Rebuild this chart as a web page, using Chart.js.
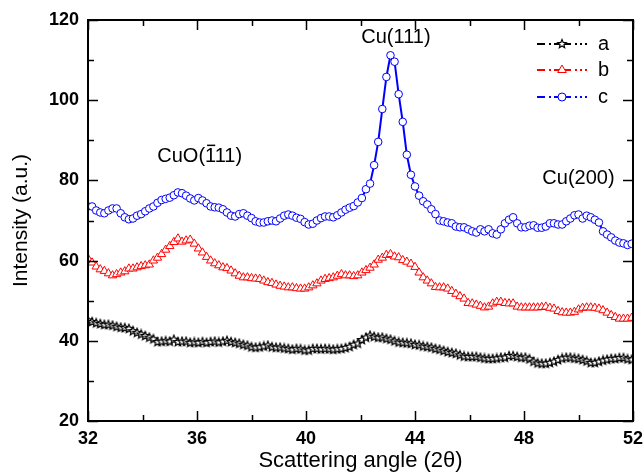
<!DOCTYPE html>
<html>
<head>
<meta charset="utf-8">
<script src="https://cdn.jsdelivr.net/npm/chart.js@4.4.0/dist/chart.umd.min.js"></script>
<style>
  html, body { margin:0; padding:0; background:#fff; }
  #wrap { width:644px; height:475px; position:relative; }
</style>
</head>
<body>
<div id="wrap"><canvas id="xrd" width="644" height="475"></canvas></div>
<script>
// --- data ---------------------------------------------------------
// angle grid: 2theta starts at 32 and goes up by 0.15 per point
const ANGLE_START = 32;
const ANGLE_STEP = 0.15;

const seriesNames = ['a', 'b', 'c'];

const intensityA = [
  45.1,44.7,44.4,44.2,44.0,44.0,43.8,43.5,43.3,43.2,43.0,42.4,42.0,41.6,41.2,40.8,40.4,39.7,39.8,39.9,
  39.8,40.3,39.7,39.8,39.8,39.5,39.6,39.5,39.7,39.5,39.7,39.8,39.6,39.8,40.0,39.7,39.5,39.3,39.0,38.8,
  38.4,38.3,38.4,38.6,38.8,38.4,38.3,38.3,38.1,38.0,37.8,38.0,37.9,37.6,37.6,38.0,38.0,37.9,38.0,37.9,
  37.8,37.9,38.0,38.2,38.5,39.0,39.3,40.2,40.8,41.3,41.0,40.8,40.8,40.5,40.3,39.9,39.6,39.5,39.4,39.3,
  39.0,38.9,38.6,38.5,38.3,38.0,37.8,37.5,37.2,37.0,36.8,36.4,36.1,36.0,36.0,36.0,35.8,35.6,35.5,35.5,
  35.6,35.8,35.8,36.2,36.2,36.0,35.8,35.8,35.4,34.8,34.4,34.3,34.3,34.5,34.8,35.2,35.6,35.8,35.8,35.6,
  35.5,35.2,34.9,34.5,34.5,34.8,35.1,35.3,35.5,35.5,35.7,35.7,35.4,35.3
];

const intensityB = [
  60.5,59.5,58.5,57.8,57.4,56.8,56.3,56.6,57.0,57.3,58.0,58.0,58.3,58.6,58.8,59.0,60.0,60.7,61.6,62.7,
  63.6,64.6,65.5,64.7,65.0,65.2,64.2,63.0,62.0,60.9,60.0,59.3,58.8,58.3,58.1,57.5,56.8,56.2,55.8,55.8,
  55.6,55.5,55.4,55.0,54.6,54.4,54.0,53.7,53.5,53.3,53.3,53.1,53.0,53.0,53.3,53.8,54.3,55.0,55.4,55.6,
  55.8,56.2,56.6,56.3,56.3,56.1,56.3,57.0,57.6,58.2,59.0,60.2,60.7,61.4,61.6,61.0,60.8,60.1,59.7,59.2,
  58.4,57.0,55.8,55.0,54.3,53.4,53.3,53.3,53.0,52.4,51.7,51.1,50.5,49.4,49.3,49.0,48.7,48.3,48.5,49.3,
  49.7,49.7,49.4,49.3,49.3,48.5,48.3,48.3,48.3,48.3,48.3,48.4,48.5,48.2,48.0,47.4,47.1,47.0,47.0,47.2,
  47.8,48.2,48.3,48.3,48.2,48.0,47.6,47.0,46.4,45.9,45.5,45.5,45.5,45.7
];

const intensityC = [
  73.5,73.5,72.5,72.0,71.8,72.5,73.0,73.0,71.8,70.8,70.3,70.5,71.2,71.6,72.3,73.0,73.5,74.4,75.1,75.4,
  75.7,76.3,77.0,76.8,76.2,75.5,75.0,75.6,75.0,74.3,73.5,73.3,73.2,72.8,72.0,71.2,71.0,71.6,71.8,71.2,
  70.6,69.8,69.5,69.5,69.8,70.0,69.8,70.5,71.2,71.5,71.2,70.7,70.4,69.6,69.0,69.2,70.0,70.6,71.0,71.0,
  70.8,71.3,72.0,72.7,73.2,73.6,74.5,75.6,77.8,79.2,83.8,89.6,97.8,105.8,111.2,109.6,101.5,94.6,86.4,81.4,
  78.5,76.2,74.8,74.0,72.8,71.6,70.0,69.8,69.5,69.3,68.5,68.3,68.3,67.8,67.3,67.0,67.8,67.3,67.8,66.8,
  66.5,67.8,69.3,70.2,70.8,69.3,68.3,68.3,68.7,68.8,68.2,68.2,68.5,69.3,69.3,69.0,69.0,69.8,70.5,71.3,
  71.5,70.5,71.2,70.8,70.2,69.5,67.3,66.5,65.8,65.0,64.5,64.3,63.9,64.2
];

const seriesColors = ['#000000', '#ff0000', '#0000ff'];

const xTickValues = [32, 36, 40, 44, 48, 52];
const yTickValues = [20, 40, 60, 80, 100, 120];

// peak labels: [text, angle, intensity] (text centre, baseline)
const peakLabels = [
  ['CuO(111)', 36.1, 84.5],
  ['Cu(111)', 43.3, 114.3],
  ['Cu(200)', 50.0, 79]
];

const FONT = '"Liberation Sans", Arial, Helvetica, sans-serif';

// --- marker images ------------------------------------------------
function starImage(r, color){
  const s = Math.ceil(r * 2 + 3);
  const c = document.createElement('canvas');
  c.width = c.height = s;
  const g = c.getContext('2d');
  g.beginPath();
  for (let k = 0; k < 10; k++){
    const rr = k % 2 ? r * 0.45 : r;
    const a = -Math.PI / 2 + k * Math.PI / 5;
    g.lineTo(s / 2 + rr * Math.cos(a), s / 2 + rr * Math.sin(a));
  }
  g.closePath();
  g.fillStyle = '#fff';
  g.fill();
  g.strokeStyle = color;
  g.lineWidth = 1.2;
  g.stroke();
  return c;
}
const starMark = starImage(4.5, '#000');

const toPoints = (vals) => vals.map((v, i) => ({ x: ANGLE_START + i * ANGLE_STEP, y: v }));

// --- frame, inward ticks, legend, peak labels --------------------
const framePlugin = {
  id: 'frame',
  afterDraw(chart){
    const { ctx, chartArea: a, scales } = chart;
    const xs = scales.x, ys = scales.y;
    ctx.save();
    ctx.strokeStyle = '#000';
    ctx.lineWidth = 2;
    ctx.strokeRect(a.left, a.top, a.right - a.left, a.bottom - a.top);

    ctx.lineWidth = 1.5;
    ctx.beginPath();
    for (let v = 32; v <= 52; v += 2){
      const px = Math.round(xs.getPixelForValue(v)) + 0.5;
      const len = v % 4 === 0 ? 10 : 6;
      ctx.moveTo(px, a.bottom); ctx.lineTo(px, a.bottom - len);
      ctx.moveTo(px, a.top); ctx.lineTo(px, a.top + len);
    }
    for (let v = 20; v <= 120; v += 10){
      const py = Math.round(ys.getPixelForValue(v)) + 0.5;
      const len = v % 20 === 0 ? 10 : 6;
      ctx.moveTo(a.left, py); ctx.lineTo(a.left + len, py);
      ctx.moveTo(a.right, py); ctx.lineTo(a.right - len, py);
    }
    ctx.stroke();

    // legend
    const lx = 537, ly = [44, 70, 97];
    seriesNames.forEach((name, i) => {
      const y = ly[i];
      const col = seriesColors[i];
      ctx.strokeStyle = col;
      ctx.fillStyle = col;
      ctx.lineWidth = 2;
      ctx.beginPath();
      ctx.moveTo(lx, y); ctx.lineTo(lx + 8, y);
      ctx.moveTo(lx + 12, y); ctx.lineTo(lx + 14, y);
      ctx.moveTo(lx + 17, y); ctx.lineTo(lx + 34, y);
      ctx.moveTo(lx + 38, y); ctx.lineTo(lx + 40, y);
      ctx.moveTo(lx + 43, y); ctx.lineTo(lx + 45, y);
      ctx.moveTo(lx + 48, y); ctx.lineTo(lx + 50, y);
      ctx.stroke();
      const mx = lx + 25;
      ctx.lineWidth = 1;
      if (i === 0){
        ctx.drawImage(starMark, mx - starMark.width / 2, y - starMark.height / 2);
      } else if (i === 1){
        const r = 5;
        ctx.beginPath();
        ctx.moveTo(mx, y - r);
        ctx.lineTo(mx + r * 0.866, y + r / 2);
        ctx.lineTo(mx - r * 0.866, y + r / 2);
        ctx.closePath();
        ctx.fillStyle = '#fff'; ctx.fill(); ctx.stroke();
      } else {
        ctx.beginPath();
        ctx.arc(mx, y, 4, 0, Math.PI * 2);
        ctx.fillStyle = '#fff'; ctx.fill(); ctx.stroke();
      }
      ctx.fillStyle = '#000';
      ctx.font = '20px ' + FONT;
      ctx.textBaseline = 'middle';
      ctx.textAlign = 'left';
      ctx.fillText(name, 598, y);
    });

    // peak labels
    ctx.font = '20px ' + FONT;
    ctx.fillStyle = '#000';
    ctx.strokeStyle = '#000';
    ctx.textBaseline = 'alphabetic';
    ctx.textAlign = 'center';
    peakLabels.forEach(([txt, ax, iy]) => {
      const px = xs.getPixelForValue(ax), py = ys.getPixelForValue(iy);
      ctx.fillText(txt, px, py);
      if (txt.startsWith('CuO')){
        // bar over the first 1 of (111)
        const w = ctx.measureText(txt).width;
        const pre = ctx.measureText('CuO(').width;
        const one = ctx.measureText('1').width;
        const x0 = px - w / 2 + pre + 2;
        ctx.lineWidth = 1.5;
        ctx.beginPath();
        ctx.moveTo(x0, py - 17); ctx.lineTo(x0 + one - 3, py - 17);
        ctx.stroke();
      }
    });
    ctx.restore();
  }
};

const markerStyle = [
  { pointStyle: starMark, pointRadius: 4.5, borderWidth: 1.3 },
  { pointStyle: 'triangle', pointRadius: 4.8, borderWidth: 1.3 },
  { pointStyle: 'circle', pointRadius: 3.8, borderWidth: 2 }
];

const allSeries = [intensityA, intensityB, intensityC];

new Chart(document.getElementById('xrd'), {
  type: 'line',
  data: {
    datasets: allSeries.map((vals, i) => ({
      label: seriesNames[i],
      data: toPoints(vals),
      borderColor: seriesColors[i],
      borderWidth: markerStyle[i].borderWidth,
      pointStyle: markerStyle[i].pointStyle,
      pointRadius: markerStyle[i].pointRadius,
      pointBorderWidth: 1,
      pointBorderColor: seriesColors[i],
      pointBackgroundColor: '#ffffff',
      tension: 0,
      fill: false
    }))
  },
  options: {
    responsive: false,
    animation: false,
    layout: { padding: { top: 20, right: 0, left: 0, bottom: 0 } },
    plugins: { legend: { display: false }, tooltip: { enabled: false } },
    scales: {
      x: {
        type: 'linear', min: 32, max: 52,
        afterBuildTicks: (s) => { s.ticks = xTickValues.map(v => ({ value: v })); },
        afterFit: (s) => { s.height = 54; s.paddingLeft = 0; s.paddingRight = 11; },
        grid: { display: false, drawTicks: false },
        border: { display: false },
        ticks: { color: '#000', padding: 7, maxRotation: 0, font: { family: FONT, size: 18, weight: 'bold' } },
        title: { display: true, text: 'Scattering angle (2θ)', color: '#000', padding: { top: 0, bottom: 1 },
                 font: { family: FONT, size: 22 } }
      },
      y: {
        min: 20, max: 120,
        afterBuildTicks: (s) => { s.ticks = yTickValues.map(v => ({ value: v })); },
        afterFit: (s) => { s.width = 88; },
        grid: { display: false, drawTicks: false },
        border: { display: false },
        ticks: { color: '#000', padding: 9, font: { family: FONT, size: 18, weight: 'bold' } },
        title: { display: true, text: 'Intensity (a.u.)', color: '#000', padding: { top: 9, bottom: 0 },
                 font: { family: FONT, size: 21 } }
      }
    }
  },
  plugins: [framePlugin]
});
</script>
</body>
</html>
